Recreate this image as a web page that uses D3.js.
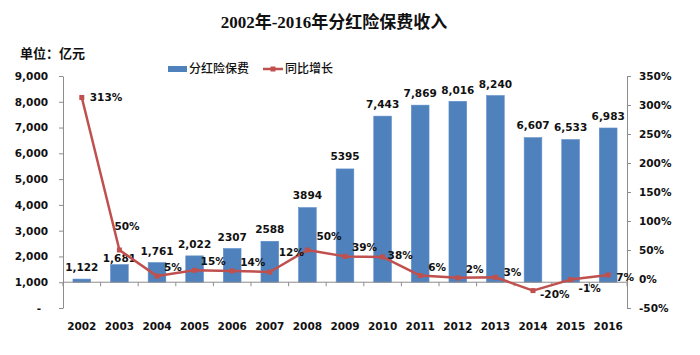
<!DOCTYPE html>
<html>
<head>
<meta charset="utf-8">
<script src="https://cdn.jsdelivr.net/npm/d3@7"></script>
<style>
  html, body { margin: 0; padding: 0; background: #fff; }
  svg { display: block; }
  .num { font-family: "DejaVu Sans", Verdana, sans-serif; font-weight: bold; font-size: 10.5px; fill: #111; }
</style>
</head>
<body>
<svg id="chart" width="700" height="355"></svg>
<script>
// ---- data ----
const years = ["2002","2003","2004","2005","2006","2007","2008","2009","2010","2011","2012","2013","2014","2015","2016"];
const premium = [1122, 1681, 1761, 2022, 2307, 2588, 3894, 5395, 7443, 7869, 8016, 8240, 6607, 6533, 6983];
const premiumLabels = ["1,122","1,681","1,761","2,022","2307","2588","3894","5395","7,443","7,869","8,016","8,240","6,607","6,533","6,983"];
const growth = [313, 50, 5, 15, 14, 12, 50, 39, 38, 6, 2, 3, -20, -1, 7];
const growthLabels = ["313%","50%","5%","15%","14%","12%","50%","39%","38%","6%","2%","3%","-20%","-1%","7%"];
const leftTicks = [0, 1000, 2000, 3000, 4000, 5000, 6000, 7000, 8000, 9000];
const rightTicks = [-50, 0, 50, 100, 150, 200, 250, 300, 350];
const titleText = "2002年-2016年分红险保费收入";
const unitText = "单位：亿元";
const seriesNames = ["分红险保费", "同比增长"];

// ---- layout (label nudges, not data) ----
const growthLabelOffsets = [[8,0],[-5,-24],[7,-9],[6,-9],[8,-9],[9,-20],[9,-14],[7,-9],[5,-2],[8,-8],[8,-9],[8,-5],[7,4],[8,9],[8,2]];
const barLabelOffsets = [-11.5,-6.5,-11.5,-11.5,-11.5,-11.5,-12.5,-12.5,-11.5,-11.5,-11.5,-11.5,-12.5,-12.5,-11.5];

const svg = d3.select("#chart");
const L = 63, R = 627, T = 76, B = 308;
const axisColor = "#8c8c8c";
const barColor = "#4F81BD";
const lineColor = "#C0504D";

const x = d3.scaleBand().domain(years).range([L, R]).paddingInner(0.53).paddingOuter(0.265);
const yL = d3.scaleLinear().domain([0, 9000]).range([B, T]);
const yR = d3.scaleLinear().domain([-50, 350]).range([B, T]);
const base = 1000;
const cx = d => x(d) + x.bandwidth() / 2;

// title
svg.append("text").attr("x", 334).attr("y", 28).attr("text-anchor", "middle")
  .style("font-family", "'Liberation Serif','Noto Sans CJK SC',serif")
  .style("font-weight", "bold").style("font-size", "17px").style("fill", "#111")
  .text(titleText);
svg.append("text").attr("x", 20).attr("y", 58)
  .style("font-family", "'Noto Sans CJK SC',sans-serif")
  .style("font-weight", "bold").style("font-size", "13px").style("fill", "#111")
  .text(unitText);

// legend
const lg = svg.append("g").attr("transform", "translate(168,69)");
lg.append("rect").attr("x", 0).attr("y", -3).attr("width", 19).attr("height", 6).attr("fill", barColor);
lg.append("text").attr("x", 21).attr("y", 0).attr("dy", "0.35em")
  .style("font-family", "'Noto Sans CJK SC',sans-serif").style("font-size", "12px").style("font-weight", "500").style("fill", "#111")
  .text(seriesNames[0]);
lg.append("line").attr("x1", 95).attr("x2", 115).attr("y1", 0).attr("y2", 0).attr("stroke", lineColor).attr("stroke-width", 2.5);
lg.append("rect").attr("x", 102.5).attr("y", -2.5).attr("width", 5).attr("height", 5).attr("fill", lineColor);
lg.append("text").attr("x", 117).attr("y", 0).attr("dy", "0.35em")
  .style("font-family", "'Noto Sans CJK SC',sans-serif").style("font-size", "12px").style("font-weight", "500").style("fill", "#111")
  .text(seriesNames[1]);

// left axis
const axL = d3.axisLeft(yL).tickValues(leftTicks).tickSize(4).tickSizeOuter(0).tickPadding(11)
  .tickFormat(d => d === 0 ? "-" : d3.format(",")(d));
const gL = svg.append("g").attr("transform", `translate(${L},0)`).call(axL);
gL.select(".domain").attr("stroke", axisColor);
gL.selectAll(".tick line").attr("stroke", axisColor);
gL.selectAll(".tick text").attr("class", "num").attr("fill", null)
  .attr("dx", d => d === 0 ? -7 : 0);
gL.attr("font-family", null).attr("font-size", null);

// right axis
const axR = d3.axisRight(yR).tickValues(rightTicks).tickSize(4).tickSizeOuter(0).tickPadding(8)
  .tickFormat(d => d + "%");
const gR = svg.append("g").attr("transform", `translate(${R},0)`).call(axR);
gR.select(".domain").attr("stroke", axisColor);
gR.selectAll(".tick line").attr("stroke", axisColor);
gR.selectAll(".tick text").attr("class", "num").attr("fill", null);
gR.attr("font-family", null).attr("font-size", null);

// bars
svg.append("g").selectAll("rect").data(years).join("rect")
  .attr("x", d => x(d)).attr("width", x.bandwidth())
  .attr("y", (d, i) => yL(premium[i])).attr("height", (d, i) => yL(base) - yL(premium[i]))
  .attr("fill", barColor).attr("stroke", "#5b8ccb").attr("stroke-width", 0.6);

// category axis at base
const yBase = yL(base);
const gX = svg.append("g");
gX.append("line").attr("x1", L).attr("x2", R).attr("y1", yBase).attr("y2", yBase).attr("stroke", axisColor);
const step = x.step();
gX.selectAll(".ct").data(d3.range(years.length + 1)).join("line")
  .attr("x1", i => L + i * step).attr("x2", i => L + i * step)
  .attr("y1", yBase).attr("y2", yBase + 4).attr("stroke", axisColor);
gX.selectAll("text").data(years).join("text").attr("class", "num")
  .attr("x", d => cx(d)).attr("y", 330).attr("text-anchor", "middle").text(d => d);

// bar labels
svg.append("g").selectAll("text").data(years).join("text").attr("class", "num")
  .attr("x", d => cx(d)).attr("y", (d, i) => yL(premium[i]) + barLabelOffsets[i])
  .attr("dy", "0.35em").attr("text-anchor", "middle").text((d, i) => premiumLabels[i]);

// line
const line = d3.line().x((d, i) => cx(years[i])).y(d => yR(d));
svg.append("path").datum(growth).attr("d", line).attr("fill", "none")
  .attr("stroke", lineColor).attr("stroke-width", 2.5).attr("stroke-linejoin", "round");
svg.append("g").selectAll("rect").data(growth).join("rect")
  .attr("x", (d, i) => cx(years[i]) - 2.5).attr("y", d => yR(d) - 2.5)
  .attr("width", 5).attr("height", 5).attr("fill", lineColor);

// line labels
svg.append("g").selectAll("text").data(growth).join("text").attr("class", "num")
  .attr("x", (d, i) => cx(years[i]) + growthLabelOffsets[i][0])
  .attr("y", (d, i) => yR(d) + growthLabelOffsets[i][1])
  .attr("dy", "0.35em").text((d, i) => growthLabels[i]);
</script>
</body>
</html>
